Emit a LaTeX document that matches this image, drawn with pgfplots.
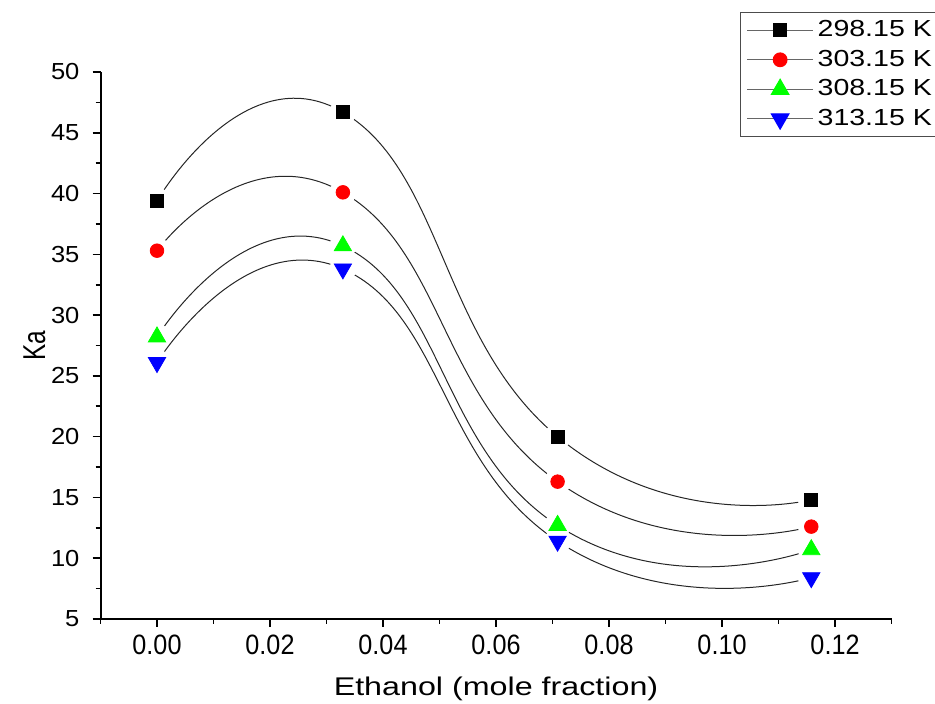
\documentclass[border=0pt]{standalone}
\usepackage{fontspec}
\setmainfont{Liberation Sans}
\newfontfamily\ytickfont[FakeStretch=1.1]{Liberation Sans}
\newfontfamily\xtickfont[FakeStretch=0.9]{Liberation Sans}
\newfontfamily\xlabfont[FakeStretch=1.26]{Liberation Sans}
\newfontfamily\ylabfont[FakeStretch=0.77]{Liberation Sans}
\newfontfamily\legfont[FakeStretch=1.23]{Liberation Sans}
\usepackage{pgfplots}
\usepackage{pgfplotstable}
\pgfplotsset{compat=1.18}
\definecolor{kred}{HTML}{FF0000}
\definecolor{kgreen}{HTML}{00FF00}
\definecolor{kblue}{HTML}{0000FF}

\pgfplotstableread{
x      a    b    c    d
0.0000 39.4 35.3 28.2 26.1
0.0329 46.7 40.1 35.7 33.8
0.0709 20.0 16.3 12.7 11.4
0.1158 14.8 12.6 10.7 8.4
}\ka

\begin{document}
\begin{tikzpicture}
\clip (-50.25pt,-42.5pt) rectangle (417.25pt,309.5pt);
\begin{axis}[
  scale only axis,
  width=395.5pt, height=273.5pt,
  xmin=-0.01, xmax=0.13, ymin=5, ymax=50,
  axis x line*=bottom, axis y line*=left,
  axis line style={black, line width=1pt},
  tick align=outside,
  major tick length=4pt, minor tick length=2.5pt,
  tick style={black, line width=0.8pt},
  xtick={0,0.02,...,0.121}, minor x tick num=1,
  extra x ticks={-0.01,0.13}, extra x tick labels={},
  extra x tick style={tick style={black, line width=0.8pt}, major tick length=2.5pt},
  ytick={5,10,...,50}, minor y tick num=1,
  /pgf/number format/assume math mode=true,
  xticklabel style={font=\xtickfont\fontsize{14}{15}\selectfont, yshift=-0.5pt,
    /pgf/number format/.cd, fixed, fixed zerofill, precision=2},
  yticklabel style={font=\ytickfont\fontsize{11.6}{13}\selectfont, xshift=-3pt},
  xlabel={Ethanol (mole fraction)},
  ylabel={Ka},
  xlabel style={font=\xlabfont\fontsize{12.8}{15}\selectfont,
    at={(axis description cs:0.5,0)}, anchor=center, yshift=-35pt},
  ylabel style={font=\ylabfont\fontsize{15.8}{18}\selectfont,
    at={(axis description cs:-0.0834,0.5)}, anchor=center},
  legend style={at={(0.8085,1.1097)}, anchor=north west,
    draw=black!70, line width=0.6pt, font=\legfont\fontsize{11.6}{14}\selectfont,
    row sep=1.2pt},
  legend cell align=left,
  legend image code/.code={
    \draw[black!60, line width=0.5pt] (0pt,0pt) -- (33pt,0pt);
    \draw[#1] plot coordinates {(16.5pt,0pt)};
  },
]
% curves
\addplot[black!85, line width=0.5pt, smooth, tension=0.9, forget plot] table[x=x, y=a] {\ka};
\addplot[black!85, line width=0.5pt, smooth, tension=0.9, forget plot] table[x=x, y=b] {\ka};
\addplot[black!85, line width=0.5pt, smooth, tension=0.9, forget plot] table[x=x, y=c] {\ka};
\addplot[black!85, line width=0.5pt, smooth, tension=0.9, forget plot] table[x=x, y=d] {\ka};
% white gaps round the markers
\addplot[only marks, mark=*, mark size=6.5pt, white, forget plot] table[x=x, y=a] {\ka};
\addplot[only marks, mark=*, mark size=6.5pt, white, forget plot] table[x=x, y=b] {\ka};
\addplot[only marks, mark=*, mark size=6.5pt, white, forget plot] table[x=x, y=c] {\ka};
\addplot[only marks, mark=*, mark size=6.5pt, white, forget plot] table[x=x, y=d] {\ka};
% markers
\addplot[only marks, mark=square*, mark size=3.2pt, black] table[x=x, y=a] {\ka};
\addlegendentry{298.15 K}
\addplot[only marks, mark=*, mark size=3.4pt, kred] table[x=x, y=b] {\ka};
\addlegendentry{303.15 K}
\addplot[only marks, mark=triangle*, mark size=5pt, kgreen] table[x=x, y=c] {\ka};
\addlegendentry{308.15 K}
\addplot[only marks, mark=triangle*, mark size=5pt, kblue, mark options={rotate=180}] table[x=x, y=d] {\ka};
\addlegendentry{313.15 K}
\end{axis}
\end{tikzpicture}
\end{document}
